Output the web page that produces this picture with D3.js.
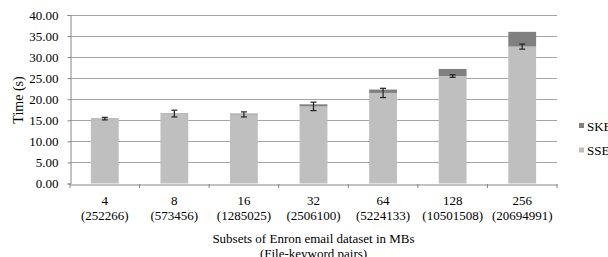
<!DOCTYPE html>
<html><head><meta charset="utf-8">
<script src="https://cdn.jsdelivr.net/npm/d3@7"></script>
<style>body{margin:0;background:#fff}svg{display:block}</style>
</head><body><svg id="c" width="608" height="257"></svg>
<script>
const categories = ["4","8","16","32","64","128","256"];
const pairs = ["(252266)","(573456)","(1285025)","(2506100)","(5224133)","(10501508)","(20694991)"];
const sse = [15.4, 16.6, 16.4, 18.3, 21.5, 25.5, 32.5];
const ske = [0.1, 0.1, 0.2, 0.5, 0.8, 1.7, 3.5];
const sseErr = [0.3, 0.8, 0.6, 1.0, 1.1, 0.3, 0.6];
const yTicks = [0,5,10,15,20,25,30,35,40];
const seriesNames = ["SKE","SSE"];
const colors = {SSE:"#bfbfbf", SKE:"#808080"};
const FONT = "Liberation Serif, serif";

const svg = d3.select("#c");
const L = 70, R = 557, T = 15, B = 183.5;
const x = d3.scaleBand().domain(categories).range([L, R]).paddingInner(0.6).paddingOuter(0.3);
const xb = d3.scaleBand().domain(categories).range([L, R]);
const y = d3.scaleLinear().domain([0, 40]).range([B, T]);

// gridlines
svg.append("g").selectAll("line").data(yTicks.filter(d=>d>0)).join("line")
  .attr("x1", L).attr("x2", R).attr("y1", d=>Math.round(y(d))+0.5).attr("y2", d=>Math.round(y(d))+0.5)
  .attr("stroke", "#a6a6a6").attr("stroke-width", 1);

// bars
const data = categories.map((c,i)=>({c, sse:sse[i], ske:ske[i], err:sseErr[i]}));
const g = svg.append("g");
g.selectAll(".sse").data(data).join("rect").attr("class","sse")
  .attr("x", d=>x(d.c)).attr("width", x.bandwidth())
  .attr("y", d=>y(d.sse)).attr("height", d=>y(0)-y(d.sse)).attr("fill", colors.SSE);
g.selectAll(".ske").data(data).join("rect").attr("class","ske")
  .attr("x", d=>x(d.c)).attr("width", x.bandwidth())
  .attr("y", d=>y(d.sse+d.ske)).attr("height", d=>y(d.sse)-y(d.sse+d.ske)).attr("fill", colors.SKE);

// error bars
const eb = svg.append("g").attr("stroke", "#222").attr("stroke-width", 1.2);
data.forEach(d=>{
  const cx = x(d.c) + x.bandwidth()/2;
  eb.append("line").attr("x1", cx).attr("x2", cx).attr("y1", y(d.sse+d.err)).attr("y2", y(d.sse-d.err));
  eb.append("line").attr("x1", cx-3).attr("x2", cx+3).attr("y1", y(d.sse+d.err)).attr("y2", y(d.sse+d.err));
  eb.append("line").attr("x1", cx-3).attr("x2", cx+3).attr("y1", y(d.sse-d.err)).attr("y2", y(d.sse-d.err));
});

// y axis
const ya = svg.append("g").attr("transform", `translate(${L+0.5},0)`)
  .call(d3.axisLeft(y).tickValues(yTicks).tickFormat(d3.format(".2f")).tickSize(3).tickPadding(9));
ya.attr("font-family", FONT).attr("font-size", 13);
ya.select(".domain").attr("stroke", "#868686");
ya.selectAll(".tick line").attr("stroke", "#868686");
ya.selectAll(".tick text").attr("fill","#000");

// x axis
const xa = svg.append("g").attr("transform", `translate(0,${Math.round(B)+0.5})`)
  .call(d3.axisBottom(xb).tickSize(0).tickFormat(""));
xa.select(".domain").attr("stroke", "#868686");
svg.append("g").selectAll("line").data(categories.concat(["end"])).join("line")
  .attr("x1", (d,i)=> i<categories.length ? xb(d) : R).attr("x2", (d,i)=> i<categories.length ? xb(d) : R)
  .attr("y1", Math.round(B)).attr("y2", Math.round(B)+4).attr("stroke", "#868686");

const lab = svg.append("g").attr("font-size", 13).attr("font-family", FONT).attr("text-anchor", "middle");
categories.forEach((c,i)=>{
  const cx = xb(c) + xb.bandwidth()/2;
  lab.append("text").attr("x", cx).attr("y", 204.5).text(c);
  lab.append("text").attr("x", cx).attr("y", 220).text(pairs[i]);
});

// axis titles
const tg = svg.append("g").attr("font-family", FONT);
tg.append("text").attr("x", (L+R)/2).attr("y", 243).attr("text-anchor","middle").attr("font-size", 13)
  .text("Subsets of Enron email dataset in MBs");
tg.append("text").attr("x", (L+R)/2).attr("y", 257.5).attr("text-anchor","middle").attr("font-size", 13)
  .text("(File-keyword pairs)");
tg.append("text").attr("transform", "translate(23,100) rotate(-90)").attr("text-anchor","middle").attr("font-size", 14)
  .text("Time (s)");

// legend
const leg = svg.append("g").attr("font-family", FONT);
seriesNames.forEach((s,i)=>{
  leg.append("rect").attr("x", 579).attr("y", 123 + i*24.5).attr("width", 5).attr("height", 5).attr("fill", colors[s]);
  leg.append("text").attr("x", 587).attr("y", 130.5 + i*24.5).attr("font-size", 13).text(s);
});
</script></body></html>
